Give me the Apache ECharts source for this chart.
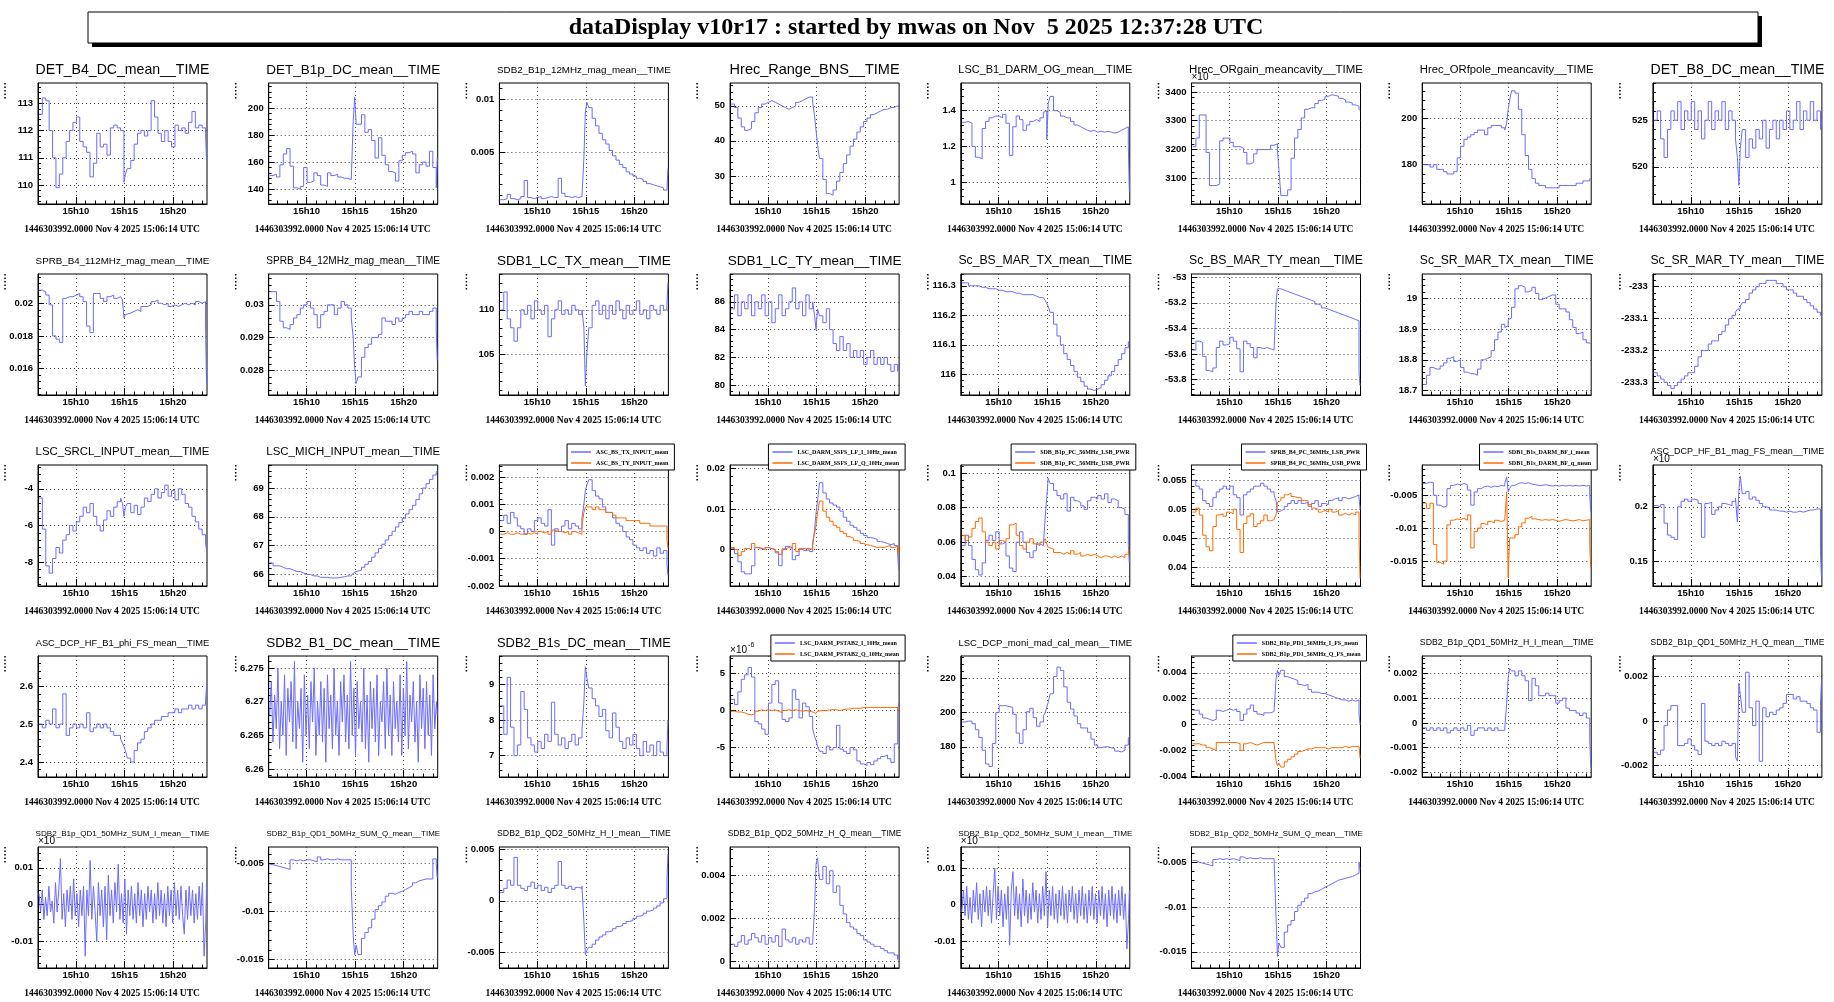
<!DOCTYPE html>
<html><head><meta charset="utf-8">
<script src="https://cdn.jsdelivr.net/npm/echarts@6/dist/echarts.min.js"></script>
<style>html,body{margin:0;padding:0;background:#fff}#c{width:1834px;height:1002px}</style>
</head><body><div id="c"></div>
<script>
// ---------------- DATA ----------------
const HEADER = 'dataDisplay v10r17 : started by mwas on Nov  5 2025 12:37:28 UTC';
const FOOTER = '1446303992.0000 Nov 4 2025 15:06:14 UTC';
// time in minutes after 15h00
const TIMES = [6.2,6.55,6.9,7.25,7.6,7.95,8.3,8.65,9.0,9.35,9.7,10.05,10.4,10.75,11.1,11.45,11.8,12.15,12.5,12.85,13.2,13.55,13.9,14.25,14.6,14.8,14.95,15.1,15.3,15.65,16.0,16.35,16.7,17.05,17.4,17.75,18.1,18.45,18.8,19.15,19.5,19.85,20.2,20.55,20.9,21.25,21.6,21.95,22.3,22.65,23.0,23.35,23.45];
// finer sampling used for the noise-dominated channels
const TIMES_FINE = [6.2,6.37,6.54,6.71,6.88,7.05,7.22,7.39,7.56,7.73,7.9,8.07,8.24,8.41,8.58,8.75,8.92,9.09,9.26,9.43,9.6,9.77,9.94,10.11,10.28,10.45,10.62,10.79,10.96,11.13,11.3,11.47,11.64,11.81,11.98,12.15,12.32,12.49,12.66,12.83,13.0,13.17,13.34,13.51,13.68,13.85,14.02,14.19,14.36,14.53,14.7,14.87,15.04,15.21,15.38,15.55,15.72,15.89,16.06,16.23,16.4,16.57,16.74,16.91,17.08,17.25,17.42,17.59,17.76,17.93,18.1,18.27,18.44,18.61,18.78,18.95,19.12,19.29,19.46,19.63,19.8,19.97,20.14,20.31,20.48,20.65,20.82,20.99,21.16,21.33,21.5,21.67,21.84,22.01,22.18,22.35,22.52,22.69,22.86,23.03,23.2,23.37,23.45];
const TIME_RANGE = [6.1, 23.5];
const TIME_TICKS = [10, 15, 20];
const TIME_LABELS = ['15h10', '15h15', '15h20'];
const TIME_MINOR = [7,8,9,11,12,13,14,16,17,18,19,21,22,23];

const det_b4_dc = [112.6,113.2,113.1,112.0,111.0,109.9,110.4,111.0,111.6,112.0,112.3,112.5,111.6,111.4,111.2,110.3,110.8,111.9,111.4,111.5,111.1,112.1,112.2,112.1,112.0,112.0,110.1,110.4,110.6,110.9,111.5,111.9,112.0,111.8,112.0,113.1,112.5,111.9,111.6,112.0,111.6,111.4,112.2,112.0,112.1,111.9,112.3,112.7,112.1,112.2,112.1,111.9,110.9];
const det_b1p_dc = [150,151,149,158,166,170,157,141,140,142,156,145,146,152,150,143,142,152,150,151,149,148,148,147,147,190,208,188,188,195,182,184,176,163,178,165,158,153,152,146,161,165,167,168,166,152,158,160,157,168,156,141,163];
const sdb2_12mhz_mag = [0.0006,0.0007,0.0011,0.0007,0.0006,0.0007,0.0009,0.0024,0.0008,0.0007,0.0008,0.0009,0.0007,0.0008,0.0009,0.0008,0.0008,0.0026,0.0012,0.0009,0.0008,0.0009,0.0008,0.0009,0.0009,0.0045,0.0088,0.0097,0.0092,0.0082,0.0075,0.0068,0.0062,0.0058,0.0052,0.0047,0.0043,0.0039,0.0036,0.0032,0.003,0.0028,0.0026,0.0025,0.0023,0.0021,0.002,0.0019,0.0018,0.0017,0.0015,0.0014,0.0035];
const hrec_range_bns = [50.5,49.5,46.5,44,43,43.5,45.5,48,49.5,50.5,51,51.5,51,50.5,50,49.5,49,49.5,50,51,51.5,52,52.5,52.5,51,47,43,39,35,29,25,24.5,26,28.5,31,33.5,36,38.5,40.5,42.5,44,45.5,46.5,47.5,48,48.5,49,49,49.5,49.5,50,50,50];
const lsc_darm_og = [1.335,1.34,1.33,1.2,1.14,1.13,1.3,1.34,1.36,1.37,1.37,1.36,1.38,1.33,1.15,1.31,1.37,1.35,1.29,1.32,1.34,1.35,1.34,1.36,1.39,1.40,1.24,1.44,1.48,1.4,1.39,1.37,1.36,1.36,1.34,1.32,1.31,1.3,1.29,1.285,1.29,1.28,1.285,1.28,1.285,1.28,1.275,1.28,1.29,1.3,1.31,1.2,0.95];
const hrec_orgain = [3210,3240,3320,3320,3190,3075,3075,3080,3230,3240,3240,3225,3210,3210,3205,3190,3150,3155,3185,3200,3200,3200,3200,3215,3220,3220,3200,3130,3040,3040,3060,3170,3240,3270,3310,3340,3345,3345,3360,3370,3375,3385,3390,3388,3385,3378,3372,3365,3362,3355,3350,3340,3335];
const hrec_orfpole = [180,180,179,180,178,178,177,176,176,177,183,188,191,192,193,194,195,195,193,196,197,197,197,196,195,198,204,208,212,211,204,193,184,178,174,172,171,171,170,170,170,170,171,171,171,171,171,172,172,173,173,174,174];
const det_b8_dc = [525,526,523,521,524,526,525,527,524,526,525,527,524,526,523,525,527,524,526,525,527,524,526,525,523,521,518,522,524,521,523,522,524,523,525,522,524,525,523,525,524,526,524,525,527,524,526,525,527,525,526,524,525];
const sprb_112mhz_mag = [0.0208,0.0207,0.0205,0.0199,0.0180,0.0178,0.0176,0.0203,0.0204,0.0204,0.0205,0.0206,0.0204,0.0201,0.0186,0.0182,0.0206,0.0206,0.0203,0.0201,0.0204,0.0205,0.0203,0.0204,0.0203,0.0202,0.0191,0.0193,0.0194,0.0195,0.0196,0.0195,0.0198,0.0198,0.0199,0.0201,0.0202,0.0200,0.0199,0.0200,0.0198,0.0199,0.0198,0.0199,0.0200,0.0199,0.0200,0.0199,0.0201,0.0200,0.0201,0.0186,0.0150];
const sprb_12mhz_mag = [0.0304,0.0304,0.0301,0.0295,0.0293,0.02925,0.0294,0.0296,0.0297,0.0299,0.0300,0.0301,0.0299,0.0297,0.0293,0.0297,0.0298,0.0300,0.0300,0.0297,0.0299,0.0301,0.0300,0.0299,0.0296,0.0290,0.0281,0.0276,0.0278,0.0284,0.0287,0.0288,0.0290,0.0290,0.0291,0.0296,0.0295,0.0295,0.0294,0.0296,0.0295,0.0296,0.0297,0.0298,0.0297,0.0297,0.0298,0.0297,0.0297,0.0298,0.0299,0.0292,0.0283];
const sdb1_lc_tx = [110,112,109,108,106.5,108,110,109.5,110.5,109,111,110,109.5,110.5,107,109,110,111,109.5,110,109.5,110.5,110,109.5,110,108,101.5,105,108,110.5,111,109.5,110.5,109,110.5,109.5,111,110,109,110.5,109.5,110,111,109.5,110,109,110.5,110,109.5,110.5,110,110.5,113];
const sdb1_lc_ty = [85.5,86.5,85,86,85.5,86.5,85,86,85.5,86.5,85,86,84.5,85.5,86.5,85,85.5,86,87,85.5,86,85,86.5,85.5,86,85,84,85.5,85,84.5,85.5,84,83,82.5,83.5,82.5,83,82,82.5,82,82.5,81.5,82,82.5,81.5,82,81.5,82,81.5,81,81.5,81,81.5];
const sc_bs_mar_tx = [116.31,116.31,116.3,116.3,116.3,116.295,116.295,116.29,116.29,116.29,116.285,116.285,116.28,116.28,116.28,116.275,116.275,116.27,116.27,116.27,116.27,116.265,116.26,116.26,116.26,116.25,116.24,116.23,116.21,116.17,116.13,116.1,116.07,116.05,116.03,116.01,115.99,115.975,115.96,115.95,115.945,115.95,115.955,115.965,115.98,115.995,116.01,116.03,116.05,116.07,116.09,116.11,116.11];
const sc_bs_mar_ty = [-53.57,-53.50,-53.51,-53.62,-53.73,-53.74,-53.71,-53.55,-53.5,-53.53,-53.52,-53.47,-53.50,-53.56,-53.74,-53.5,-53.52,-53.55,-53.63,-53.55,-53.56,-53.55,-53.56,-53.57,-53.57,-53.2,-53.09,-53.09,-53.10,-53.11,-53.12,-53.13,-53.14,-53.15,-53.16,-53.17,-53.18,-53.19,-53.21,-53.22,-53.24,-53.25,-53.26,-53.27,-53.28,-53.29,-53.30,-53.31,-53.32,-53.33,-53.34,-53.75,-53.85];
const sc_sr_mar_tx = [18.72,18.75,18.775,18.77,18.77,18.78,18.79,18.805,18.81,18.795,18.80,18.775,18.76,18.755,18.755,18.75,18.77,18.80,18.805,18.81,18.83,18.865,18.89,18.915,18.905,18.91,18.93,18.935,18.97,19.03,19.04,19.035,19.02,19.025,19.035,19.015,18.995,19.0,19.005,19.01,19.01,18.98,18.965,18.965,18.955,18.93,18.905,18.885,18.89,18.865,18.855,18.85,18.85];
const sc_sr_mar_ty = [-233.27,-233.28,-233.29,-233.3,-233.31,-233.32,-233.31,-233.3,-233.29,-233.28,-233.27,-233.27,-233.25,-233.22,-233.2,-233.2,-233.18,-233.17,-233.17,-233.15,-233.14,-233.12,-233.1,-233.09,-233.08,-233.07,-233.07,-233.06,-233.05,-233.04,-233.02,-233.01,-233.0,-232.99,-232.99,-232.98,-232.98,-232.98,-232.99,-232.99,-233.0,-233.01,-233.01,-233.02,-233.03,-233.03,-233.04,-233.05,-233.06,-233.07,-233.08,-233.09,-233.09];
const lsc_srcl_input = [-4.5,-6.2,-8.2,-8.6,-7.8,-7.2,-7.5,-6.8,-6.5,-6.0,-6.3,-5.8,-5.5,-5.0,-5.3,-4.8,-5.5,-6.0,-6.3,-5.7,-5.2,-5.5,-5.0,-4.7,-4.5,-4.8,-5.5,-5.0,-4.8,-5.3,-4.9,-5.4,-5.0,-4.5,-4.7,-4.3,-4.0,-4.5,-4.2,-3.8,-4.4,-4.1,-4.6,-4.0,-4.3,-4.8,-5.0,-5.5,-5.8,-6.2,-6.5,-7.0,-7.3];
const lsc_mich_input = [66.4,66.3,66.3,66.25,66.2,66.2,66.15,66.1,66.1,66.05,66.0,66.0,65.95,65.95,65.9,65.9,65.9,65.88,65.88,65.88,65.9,65.92,65.95,65.95,66.0,66.05,66.1,66.1,66.15,66.25,66.35,66.45,66.6,66.75,66.9,67.05,67.2,67.35,67.5,67.65,67.8,67.95,68.1,68.25,68.4,68.6,68.8,69.0,69.15,69.3,69.45,69.55,69.6];
const asc_bs_tx = [0.0004,0.0006,0.0003,0.0007,0.0005,0.0002,0.0001,-0.0001,0.0001,0.0000,0.0004,0.0005,0.0003,0.0002,0.0008,-0.0005,0.0001,0.0000,0.0002,0.0004,0.0001,0.0003,0.0002,0.0001,0.0005,0.0010,0.0015,0.0017,0.0019,0.0015,0.0013,0.0012,0.0009,0.0007,0.0007,0.0005,0.0003,0.0002,0.0000,-0.0002,-0.0003,-0.0005,-0.0006,-0.0007,-0.0006,-0.0008,-0.0007,-0.0009,-0.0006,-0.0008,-0.0007,-0.0012,-0.0016];
const asc_bs_ty = [-0.0001,-0.00005,-0.0001,-0.0001,-0.00005,-0.0001,-0.0001,-0.00005,-0.0001,-0.00005,-0.0001,0.0000,-0.00005,0.0000,-0.0001,0.00005,0.0000,0.0000,-0.00005,0.0000,-0.0001,0.0000,-0.00005,-0.0001,0.0002,0.0007,0.0009,0.0009,0.0009,0.0008,0.0009,0.0008,0.0008,0.0007,0.0007,0.0006,0.0005,0.0005,0.0005,0.0004,0.0004,0.0004,0.0004,0.0003,0.0003,0.0003,0.0002,0.0002,0.0002,0.0002,0.0002,-0.0003,-0.0006];
const ssfs_i = [0.0002,-0.001,-0.003,-0.0055,-0.006,-0.006,-0.004,0.0005,0.0003,0.0000,0.0005,0.0003,0.0000,-0.0008,-0.004,0.0000,0.0008,0.0005,-0.0025,-0.0015,0.0000,-0.0003,0.0000,-0.0005,0.001,0.005,0.009,0.012,0.0165,0.014,0.0125,0.0115,0.011,0.0105,0.0095,0.008,0.007,0.006,0.0055,0.0048,0.004,0.0035,0.003,0.0028,0.0025,0.002,0.0018,0.0015,0.0012,0.0015,0.001,-0.001,-0.005];
const ssfs_q = [0.0005,0.0000,-0.0015,-0.0005,0.0003,0.0000,0.0015,0.0005,0.0003,0.0000,0.0005,0.0002,0.0000,-0.0005,-0.0012,0.0002,0.0005,0.0003,0.0015,-0.0005,0.0003,0.0002,0.0003,0.0000,0.002,0.004,0.006,0.009,0.012,0.0095,0.008,0.007,0.006,0.0055,0.0045,0.004,0.0032,0.0028,0.0022,0.002,0.0015,0.0012,0.001,0.0008,0.0005,0.0006,0.0005,0.0008,0.001,0.0005,0.0008,-0.001,0.001];
const pc56_lsb = [0.058,0.064,0.058,0.05,0.044,0.041,0.048,0.061,0.064,0.061,0.066,0.059,0.06,0.052,0.045,0.043,0.06,0.066,0.06,0.054,0.051,0.055,0.059,0.058,0.059,0.075,0.086,0.097,0.094,0.09,0.087,0.085,0.088,0.078,0.086,0.084,0.083,0.081,0.079,0.084,0.086,0.085,0.087,0.085,0.088,0.083,0.085,0.084,0.08,0.079,0.076,0.058,0.048];
const pc56_usb = [0.064,0.061,0.063,0.068,0.072,0.074,0.066,0.06,0.058,0.06,0.056,0.061,0.06,0.062,0.07,0.071,0.064,0.058,0.056,0.06,0.062,0.059,0.058,0.06,0.061,0.062,0.059,0.057,0.056,0.054,0.054,0.053,0.054,0.053,0.055,0.053,0.054,0.052,0.053,0.052,0.053,0.052,0.051,0.052,0.052,0.051,0.052,0.051,0.052,0.051,0.053,0.055,0.056];
const sprb_pc_lsb = [0.055,0.054,0.0535,0.0515,0.051,0.0505,0.052,0.053,0.0535,0.054,0.0535,0.054,0.0525,0.052,0.049,0.0525,0.053,0.0535,0.054,0.054,0.0545,0.054,0.0535,0.053,0.0525,0.0515,0.0495,0.0497,0.05,0.0505,0.051,0.0515,0.051,0.0515,0.051,0.0512,0.0505,0.051,0.0515,0.0505,0.051,0.0508,0.0515,0.0518,0.052,0.0515,0.052,0.0518,0.052,0.0522,0.0525,0.052,0.05];
const sprb_pc_usb = [0.0495,0.0502,0.049,0.0455,0.0435,0.0428,0.047,0.049,0.0492,0.0488,0.0495,0.0492,0.05,0.0465,0.0425,0.0475,0.0488,0.0492,0.047,0.0475,0.048,0.049,0.048,0.0482,0.048,0.049,0.0512,0.0515,0.052,0.0525,0.0528,0.0522,0.052,0.052,0.0515,0.0515,0.0508,0.0502,0.05,0.0495,0.0498,0.0495,0.05,0.0495,0.0498,0.049,0.0493,0.049,0.0493,0.049,0.0495,0.045,0.038];
const darm_bf_i = [-0.0032,-0.003,-0.0031,-0.005,-0.0065,-0.0068,-0.0066,-0.004,-0.0035,-0.0033,-0.0034,-0.0032,-0.0034,-0.0042,-0.0065,-0.0045,-0.004,-0.0037,-0.0036,-0.0038,-0.0036,-0.0037,-0.0035,-0.0036,-0.0032,-0.0022,-0.0045,-0.004,-0.0035,-0.0032,-0.0031,-0.0032,-0.0031,-0.0033,-0.0034,-0.0035,-0.0035,-0.0034,-0.0035,-0.0036,-0.0035,-0.0036,-0.0035,-0.0036,-0.0035,-0.0036,-0.0035,-0.0036,-0.0035,-0.0036,-0.0035,-0.005,-0.0075];
const darm_bf_q = [-0.0062,-0.007,-0.0062,-0.0125,-0.0152,-0.0155,-0.015,-0.0095,-0.0088,-0.0086,-0.0087,-0.0085,-0.0088,-0.008,-0.013,-0.0105,-0.01,-0.0093,-0.0095,-0.009,-0.0092,-0.0088,-0.009,-0.0088,-0.0085,-0.0045,-0.0175,-0.0115,-0.0115,-0.011,-0.0098,-0.0092,-0.0085,-0.0082,-0.0086,-0.0087,-0.0088,-0.0087,-0.0088,-0.0087,-0.0088,-0.009,-0.0088,-0.0087,-0.0088,-0.0089,-0.0088,-0.0087,-0.0089,-0.0088,-0.0087,-0.0125,-0.016];
const dcp_mag_fs = [0.201,0.2,0.202,0.185,0.174,0.172,0.17,0.2,0.205,0.207,0.205,0.207,0.206,0.203,0.172,0.203,0.204,0.193,0.197,0.2,0.203,0.202,0.201,0.205,0.208,0.186,0.215,0.228,0.212,0.214,0.207,0.209,0.206,0.203,0.2,0.199,0.197,0.197,0.196,0.196,0.195,0.196,0.195,0.195,0.196,0.195,0.196,0.197,0.197,0.198,0.198,0.16,0.135];
const dcp_phi_fs = [2.5,2.49,2.51,2.5,2.54,2.49,2.5,2.58,2.47,2.49,2.5,2.49,2.5,2.49,2.53,2.48,2.49,2.5,2.49,2.5,2.49,2.48,2.47,2.47,2.46,2.45,2.44,2.43,2.41,2.4,2.43,2.45,2.46,2.48,2.49,2.5,2.51,2.51,2.52,2.52,2.53,2.53,2.54,2.53,2.54,2.54,2.55,2.54,2.55,2.54,2.55,2.56,2.6];
// fine sampling (TIMES_FINE)
const sdb2_b1_dc = [6.268,6.273,6.264,6.271,6.266,6.275,6.263,6.27,6.265,6.274,6.262,6.272,6.267,6.273,6.264,6.276,6.263,6.27,6.266,6.272,6.261,6.274,6.265,6.271,6.263,6.273,6.267,6.275,6.262,6.27,6.265,6.273,6.264,6.272,6.261,6.274,6.266,6.271,6.263,6.275,6.265,6.27,6.262,6.273,6.267,6.274,6.264,6.271,6.263,6.276,6.265,6.272,6.262,6.273,6.266,6.27,6.264,6.275,6.263,6.271,6.261,6.273,6.266,6.272,6.264,6.274,6.262,6.27,6.267,6.273,6.263,6.275,6.265,6.271,6.262,6.273,6.266,6.27,6.264,6.274,6.262,6.272,6.265,6.276,6.263,6.271,6.267,6.273,6.264,6.27,6.261,6.274,6.266,6.272,6.263,6.273,6.265,6.271,6.262,6.274,6.266,6.27,6.268];
const sdb2_b1s_dc = [8.4,7.6,9.2,7.8,7.0,7.3,8.8,8.3,7.5,7.3,7.1,7.4,7.2,7.6,7.4,8.5,7.6,7.3,7.5,7.2,7.4,7.6,7.3,7.5,7.7,8.5,9.5,9.2,8.9,8.6,8.4,8.1,8.3,7.7,7.5,8.2,7.8,7.4,7.2,7.5,7.3,7.6,7.2,7.0,7.4,7.1,7.3,7.0,7.4,7.1,7.0,7.2,8.0];
// PSTAB2 values in units of 1e-6
const pstab2_i_e6 = [1.5,0.8,2.5,4.2,4.8,5.8,4.5,-1.5,-1.8,-2.5,-3.2,1.0,3.5,4.0,1.0,-1.2,-1.5,-1.0,2.8,1.5,-1.0,1.0,0.5,-0.8,-2.5,-3.5,-4.0,-4.8,-5.5,-5.8,-4.8,-5.3,-5.0,-2.0,-5.2,-5.5,-5.8,-5.0,-5.3,-6.8,-7.2,-7.4,-7.0,-7.3,-6.8,-6.5,-6.2,-6.0,-6.5,-7.0,-4.5,0.0,1.0];
const pstab2_q_e6 = [-0.1,-0.2,-0.2,-0.3,-0.5,-0.6,-0.4,-0.1,0.1,0.0,0.1,0.0,0.1,-0.1,-0.3,0.0,0.1,0.0,0.1,0.0,-0.1,0.0,-0.1,-0.2,-0.3,-0.4,-0.2,-0.1,0.0,0.0,0.1,0.1,0.1,0.0,0.1,0.2,0.2,0.3,0.3,0.3,0.4,0.4,0.4,0.4,0.4,0.4,0.4,0.4,0.4,0.4,0.4,0.0,-0.3];
const dcp_moni_mad = [194.5,195,195,193.5,190,185.5,178,170,168.5,182,200,204,204,203.5,203,199,188,182,190,200.5,202.5,197,192,194.5,198,200,203,206,211,221,226.5,224.5,215,206,202,198,193.5,191,191,188.5,184.5,181,179.5,180,180,179.5,179,177.5,177,178,181,185,186];
const pd1_i_fs = [0.0011,0.0011,0.0008,0.0005,0.0004,0.0003,0.0004,0.0011,0.001,0.0011,0.0012,0.0011,0.0012,0.001,0.0003,0.0008,0.0012,0.0015,0.001,0.0008,0.0007,0.0009,0.0009,0.001,0.001,0.0035,0.0042,0.0038,0.0042,0.0037,0.0036,0.0035,0.0034,0.0031,0.003,0.0031,0.0027,0.0025,0.0025,0.0024,0.0024,0.0023,0.0022,0.0021,0.002,0.0019,0.0019,0.0018,0.0019,0.0018,0.0019,0.0008,0.0];
const pd1_q_fs = [-0.0015,-0.0015,-0.0016,-0.0016,-0.0018,-0.0019,-0.002,-0.0014,-0.0014,-0.0014,-0.0014,-0.0014,-0.0014,-0.0015,-0.002,-0.0015,-0.0014,-0.0015,-0.0016,-0.0015,-0.0014,-0.0014,-0.0014,-0.0014,-0.0014,-0.0028,-0.0032,-0.003,-0.0033,-0.0029,-0.0027,-0.0025,-0.0023,-0.0021,-0.002,-0.0019,-0.0019,-0.0018,-0.0018,-0.0018,-0.0018,-0.0019,-0.0018,-0.0018,-0.0018,-0.0018,-0.0017,-0.0018,-0.0017,-0.0017,-0.0017,-0.0016,-0.0026];
const qd1_h_i = [-0.0002,-0.0003,-0.0002,-0.0003,-0.0002,-0.0003,-0.0002,-0.0004,-0.0003,-0.0002,-0.0003,-0.0002,-0.0003,-0.0001,-0.0005,-0.0003,-0.0002,-0.0002,-0.0003,-0.0002,-0.0003,-0.0002,-0.0003,-0.0003,-0.0002,0.0008,0.0018,0.0022,0.0021,0.0019,0.0021,0.0019,0.0017,0.0009,0.0018,0.0015,0.0011,0.0011,0.0012,0.0011,0.0011,0.0008,0.0009,0.001,0.0006,0.0005,0.0005,0.0004,0.0003,0.0004,0.0002,-0.0006,-0.0018];
const qd1_h_q = [-0.0014,-0.0015,-0.0013,-0.0002,0.0005,0.0007,0.0007,-0.0011,-0.0011,-0.001,-0.0008,-0.0011,-0.0013,-0.0015,0.0008,-0.0009,-0.001,-0.0011,-0.001,-0.0011,-0.0009,-0.001,-0.0011,-0.001,-0.0016,-0.0018,0.0017,0.0012,0.0004,0.0022,0.0006,-0.0002,0.0009,-0.0018,0.0006,0.0002,0.0004,0.0003,0.0005,0.0006,0.0008,0.0012,0.0012,0.001,0.0011,0.0009,0.0009,0.0008,0.0006,0.0005,-0.0005,0.0007,0.0018];
// fine sampling (TIMES_FINE)
const qd1_sum_i = [0.003,-0.002,0.004,-0.004,0.002,-0.003,0.005,-0.002,0.001,-0.005,0.006,-0.002,0.004,0.0125,-0.004,0.003,-0.006,0.004,-0.002,0.005,-0.004,0.007,-0.003,0.003,-0.006,0.004,-0.003,0.005,-0.014,0.004,-0.003,0.012,-0.004,0.005,-0.002,-0.01,0.006,-0.003,0.004,-0.006,0.005,-0.0095,0.008,-0.003,0.004,-0.005,0.006,-0.002,0.011,-0.004,0.003,-0.005,0.007,-0.008,0.004,-0.003,0.005,-0.004,0.003,-0.005,0.006,-0.003,0.004,-0.006,0.003,-0.004,0.005,-0.002,0.004,-0.005,0.003,-0.004,0.006,-0.003,0.004,-0.005,0.003,-0.006,0.005,-0.003,0.004,-0.005,0.006,-0.003,0.004,-0.004,0.005,-0.003,-0.008,0.004,-0.004,0.005,-0.003,0.004,-0.005,0.003,-0.004,0.005,-0.003,0.006,-0.014,-0.005,0.006];
const qd1_sum_q = [-0.0051,-0.0052,-0.0053,-0.0054,-0.0055,-0.0056,-0.0046,-0.0047,-0.0046,-0.0047,-0.0046,-0.0046,-0.0047,-0.0048,-0.0043,-0.0046,-0.0045,-0.0046,-0.0046,-0.0045,-0.0046,-0.0046,-0.0046,-0.0046,-0.0075,-0.0125,-0.0145,-0.0135,-0.0145,-0.0128,-0.0122,-0.0117,-0.0108,-0.0098,-0.0094,-0.009,-0.0084,-0.0081,-0.0082,-0.008,-0.0079,-0.0077,-0.0075,-0.0073,-0.007,-0.0068,-0.0067,-0.0066,-0.0066,-0.0066,-0.0045,-0.005,-0.0065];
const qd2_h_i = [0.0008,0.0012,0.002,0.0015,0.0042,0.0015,0.0012,0.001,0.0014,0.0018,0.0012,0.0015,0.001,0.0013,0.0008,0.0012,0.0015,0.0038,0.0015,0.0012,0.0014,0.0011,0.0013,0.0012,0.0014,-0.002,-0.0052,-0.0048,-0.0045,-0.0042,-0.0038,-0.0035,-0.0033,-0.003,-0.0029,-0.0027,-0.0025,-0.0024,-0.0022,-0.002,-0.0019,-0.0017,-0.0015,-0.0014,-0.0012,-0.001,-0.0009,-0.0007,-0.0005,-0.0002,0.0002,0.002,0.0045];
const qd2_h_q = [0.0008,0.0007,0.0009,0.0012,0.0008,0.001,0.0013,0.0011,0.0009,0.0012,0.0008,0.0011,0.0009,0.0012,0.0007,0.0015,0.001,0.0009,0.0011,0.0008,0.001,0.0009,0.0011,0.0008,0.0009,0.0025,0.0045,0.0048,0.0038,0.0044,0.0036,0.0042,0.0032,0.0035,0.0026,0.0022,0.0018,0.0016,0.0015,0.0013,0.0012,0.001,0.0009,0.0008,0.0007,0.0007,0.0006,0.0005,0.0004,0.0004,0.0003,0.0001,0.0003];
// fine sampling (TIMES_FINE)
const qd2_sum_i = [-0.002,0.004,-0.003,0.005,-0.004,0.002,-0.005,0.004,-0.002,0.006,-0.004,0.003,-0.006,0.004,-0.002,0.005,-0.003,0.004,-0.005,0.003,0.01,-0.004,0.005,-0.003,0.004,-0.006,0.003,-0.004,0.005,-0.011,0.004,0.009,-0.003,0.005,-0.004,0.003,-0.006,0.007,-0.003,0.004,-0.005,0.003,-0.004,0.006,-0.002,0.004,-0.005,0.003,-0.004,0.005,-0.003,0.009,-0.006,0.004,-0.003,0.005,-0.004,0.003,-0.005,0.004,-0.003,0.005,-0.004,0.003,-0.005,0.004,-0.002,0.005,-0.004,0.003,-0.005,0.004,-0.003,0.005,-0.004,0.003,-0.005,0.004,-0.003,0.005,-0.004,0.003,-0.005,0.004,-0.003,0.005,-0.004,0.003,-0.006,0.004,-0.003,0.005,-0.004,0.003,-0.005,0.004,-0.003,0.005,-0.004,0.003,-0.012,-0.004,0.004];
const qd2_sum_q = [-0.0048,-0.005,-0.0051,-0.0052,-0.0053,-0.0054,-0.0047,-0.0046,-0.0047,-0.0046,-0.0047,-0.0046,-0.0047,-0.0048,-0.0044,-0.0046,-0.0045,-0.0046,-0.0046,-0.0045,-0.0046,-0.0046,-0.0046,-0.0046,-0.0048,-0.011,-0.0155,-0.014,-0.0145,-0.0128,-0.012,-0.0115,-0.0105,-0.0098,-0.0094,-0.009,-0.0085,-0.0083,-0.0082,-0.008,-0.0078,-0.0076,-0.0074,-0.0072,-0.007,-0.0069,-0.0068,-0.0067,-0.0066,-0.0064,-0.0062,-0.005,-0.0058];

// panel titles (empty title = legend panel)
const PANEL_TITLES = ['DET_B4_DC_mean__TIME','DET_B1p_DC_mean__TIME','SDB2_B1p_12MHz_mag_mean__TIME','Hrec_Range_BNS__TIME','LSC_B1_DARM_OG_mean__TIME','Hrec_ORgain_meancavity__TIME','Hrec_ORfpole_meancavity__TIME','DET_B8_DC_mean__TIME',
'SPRB_B4_112MHz_mag_mean__TIME','SPRB_B4_12MHz_mag_mean__TIME','SDB1_LC_TX_mean__TIME','SDB1_LC_TY_mean__TIME','Sc_BS_MAR_TX_mean__TIME','Sc_BS_MAR_TY_mean__TIME','Sc_SR_MAR_TX_mean__TIME','Sc_SR_MAR_TY_mean__TIME',
'LSC_SRCL_INPUT_mean__TIME','LSC_MICH_INPUT_mean__TIME','','','','','','ASC_DCP_HF_B1_mag_FS_mean__TIME',
'ASC_DCP_HF_B1_phi_FS_mean__TIME','SDB2_B1_DC_mean__TIME','SDB2_B1s_DC_mean__TIME','','LSC_DCP_moni_mad_cal_mean__TIME','','SDB2_B1p_QD1_50MHz_H_I_mean__TIME','SDB2_B1p_QD1_50MHz_H_Q_mean__TIME',
'SDB2_B1p_QD1_50MHz_SUM_I_mean__TIME','SDB2_B1p_QD1_50MHz_SUM_Q_mean__TIME','SDB2_B1p_QD2_50MHz_H_I_mean__TIME','SDB2_B1p_QD2_50MHz_H_Q_mean__TIME','SDB2_B1p_QD2_50MHz_SUM_I_mean__TIME','SDB2_B1p_QD2_50MHz_SUM_Q_mean__TIME'];
// series of each panel: [name, values, times (optional)]
const PANEL_SERIES = [
 [['DET_B4_DC_mean', det_b4_dc]], [['DET_B1p_DC_mean', det_b1p_dc]], [['SDB2_B1p_12MHz_mag_mean', sdb2_12mhz_mag]], [['Hrec_Range_BNS', hrec_range_bns]],
 [['LSC_B1_DARM_OG_mean', lsc_darm_og]], [['Hrec_ORgain_meancavity', hrec_orgain]], [['Hrec_ORfpole_meancavity', hrec_orfpole]], [['DET_B8_DC_mean', det_b8_dc]],
 [['SPRB_B4_112MHz_mag_mean', sprb_112mhz_mag]], [['SPRB_B4_12MHz_mag_mean', sprb_12mhz_mag]], [['SDB1_LC_TX_mean', sdb1_lc_tx]], [['SDB1_LC_TY_mean', sdb1_lc_ty]],
 [['Sc_BS_MAR_TX_mean', sc_bs_mar_tx]], [['Sc_BS_MAR_TY_mean', sc_bs_mar_ty]], [['Sc_SR_MAR_TX_mean', sc_sr_mar_tx]], [['Sc_SR_MAR_TY_mean', sc_sr_mar_ty]],
 [['LSC_SRCL_INPUT_mean', lsc_srcl_input]], [['LSC_MICH_INPUT_mean', lsc_mich_input]],
 [['ASC_BS_TX_INPUT_mean', asc_bs_tx], ['ASC_BS_TY_INPUT_mean', asc_bs_ty]],
 [['LSC_DARM_SSFS_LF_I_10Hz_mean', ssfs_i], ['LSC_DARM_SSFS_LF_Q_10Hz_mean', ssfs_q]],
 [['SDB_B1p_PC_56MHz_LSB_PWR', pc56_lsb], ['SDB_B1p_PC_56MHz_USB_PWR', pc56_usb]],
 [['SPRB_B4_PC_56MHz_LSB_PWR', sprb_pc_lsb], ['SPRB_B4_PC_56MHz_USB_PWR', sprb_pc_usb]],
 [['SDB1_B1s_DARM_BF_i_mean', darm_bf_i], ['SDB1_B1s_DARM_BF_q_mean', darm_bf_q]],
 [['ASC_DCP_HF_B1_mag_FS_mean', dcp_mag_fs]],
 [['ASC_DCP_HF_B1_phi_FS_mean', dcp_phi_fs]], [['SDB2_B1_DC_mean', sdb2_b1_dc, TIMES_FINE]], [['SDB2_B1s_DC_mean', sdb2_b1s_dc]],
 [['LSC_DARM_PSTAB2_I_10Hz_mean', pstab2_i_e6], ['LSC_DARM_PSTAB2_Q_10Hz_mean', pstab2_q_e6]],
 [['LSC_DCP_moni_mad_cal_mean', dcp_moni_mad]],
 [['SDB2_B1p_PD1_56MHz_I_FS_mean', pd1_i_fs], ['SDB2_B1p_PD1_56MHz_Q_FS_mean', pd1_q_fs]],
 [['SDB2_B1p_QD1_50MHz_H_I_mean', qd1_h_i]], [['SDB2_B1p_QD1_50MHz_H_Q_mean', qd1_h_q]],
 [['SDB2_B1p_QD1_50MHz_SUM_I_mean', qd1_sum_i, TIMES_FINE]], [['SDB2_B1p_QD1_50MHz_SUM_Q_mean', qd1_sum_q]],
 [['SDB2_B1p_QD2_50MHz_H_I_mean', qd2_h_i]], [['SDB2_B1p_QD2_50MHz_H_Q_mean', qd2_h_q]],
 [['SDB2_B1p_QD2_50MHz_SUM_I_mean', qd2_sum_i, TIMES_FINE]], [['SDB2_B1p_QD2_50MHz_SUM_Q_mean', qd2_sum_q]]
];
const Y_RANGES = [[109.3,113.75],[129,218.5],[0.0002,0.0115],[22,56.5],[0.878,1.555],[3011,3431],[163,215.4],[516,529],
[0.01438,0.02179],[0.02725,0.03094],[100.5,114],[79.3,88],[115.93,116.34],[-53.922,-52.974],[18.686,19.078],[-233.34,-232.96],
[-9.3,-2.7],[65.6,69.8],[-0.002,0.00244],[-0.009,0.0209],[0.0346,0.1047],[0.03669,0.05767],[-0.0188,-0.0004],[0.1273,0.2383],
[2.36,2.68],[6.2588,6.2768],[6.4,9.8],[-8.96,7.34],[162.4,233],[-0.00407,0.0053],[-0.00218,0.0027],[-0.00251,0.00293],
[-0.0172,0.01566],[-0.0159,-0.00326],[-0.0065,0.0052],[-0.0003,0.0053],[-0.0172,0.0157],[-0.0168,-0.0033]];
const Y_TICKS = [[110,111,112,113],[140,160,180,200],[0.005,0.01],[30,40,50],[1,1.2,1.4],[3100,3200,3300,3400],[180,200],[520,525],
[0.016,0.018,0.02],[0.028,0.029,0.03],[105,110],[80,82,84,86],[116,116.1,116.2,116.3],[-53.8,-53.6,-53.4,-53.2,-53],[18.7,18.8,18.9,19],[-233.3,-233.2,-233.1,-233],
[-8,-6,-4],[66,67,68,69],[-0.002,-0.001,0,0.001,0.002],[0,0.01,0.02],[0.04,0.06,0.08,0.1],[0.04,0.045,0.05,0.055],[-0.015,-0.01,-0.005],[0.15,0.2],
[2.4,2.5,2.6],[6.26,6.265,6.27,6.275],[7,8,9],[-5,0,5],[180,200,220],[-0.004,-0.002,0,0.002,0.004],[-0.002,-0.001,0,0.001,0.002],[-0.002,0,0.002],
[-0.01,0,0.01],[-0.015,-0.01,-0.005],[-0.005,0,0.005],[0,0.002,0.004],[-0.01,0,0.01],[-0.015,-0.01,-0.005]];
// axis exponent labels: [panel index, base, superscript]
const EXPONENTS = [[5,'×10',''],[23,'×10',''],[27,'×10','-6'],[32,'×10',''],[36,'×10','']];

// ---------------- LAYOUT / STYLE ----------------
const COL0 = 38, COLW = 230.7, ROW0 = 83, ROWH = 191, FW = 169, FH = 121, W = 1834;
const BLUE = '#6b6bff', ORANGE = '#ff6a00';
const SANS = '"Liberation Sans", Arial, sans-serif';
const SERIF = '"Liberation Serif", "Times New Roman", serif';

const cvs = document.createElement('canvas').getContext('2d');
function measure(text, font) { cvs.font = font; return cvs.measureText(text).width; }
function fmt(v) { return String(parseFloat(Number(v).toPrecision(8))); }
function minorTicks(min, max, majors) {
  const step = (majors[1] - majors[0]) / 5, out = [];
  for (let k = Math.ceil(min / step - 1e-9); k * step <= max + 1e-12; k++) {
    const v = k * step;
    if (!majors.some(m => Math.abs(m - v) < step * 0.1)) out.push(v);
  }
  return out;
}

const option = { animation: false, backgroundColor: '#fff', grid: [], xAxis: [], yAxis: [], series: [], legend: [], graphic: [] };

// header box
const hw = measure(HEADER, 'bold 100px ' + SERIF) / 100;
option.graphic.push({ type: 'rect', shape: { x: 92, y: 16, width: 1670, height: 31 }, style: { fill: '#000' }, z: 1 });
option.graphic.push({ type: 'rect', shape: { x: 88, y: 12, width: 1670, height: 31 }, style: { fill: '#fff', stroke: '#000', lineWidth: 1 }, z: 2 });
option.graphic.push({ type: 'text', x: 916, y: 28, z: 3, style: { text: HEADER, fill: '#000', fontFamily: SERIF, fontWeight: 'bold', fontSize: Math.min(27, 695 / hw), align: 'center', verticalAlign: 'middle' } });

PANEL_SERIES.forEach((ser, i) => {
  const c = i % 8, r = Math.floor(i / 8);
  const left = COL0 + c * COLW, top = ROW0 + r * ROWH;
  const [ymin, ymax] = Y_RANGES[i];
  const majors = Y_TICKS[i];
  option.grid.push({ left, top, width: FW, height: FH, show: true, borderColor: '#000', borderWidth: 1, backgroundColor: 'rgba(0,0,0,0)' });
  const gridLine = { show: true, lineStyle: { color: '#444', type: [1, 3], width: 1 } };
  option.xAxis.push({ gridIndex: i, type: 'value', min: TIME_RANGE[0], max: TIME_RANGE[1], position: 'bottom',
    axisLine: { show: true, onZero: false, lineStyle: { color: '#000', width: 1 } },
    axisTick: { show: true, inside: true, length: 7, customValues: TIME_TICKS, lineStyle: { color: '#000' } },
    axisLabel: { show: true, customValues: TIME_TICKS, formatter: v => TIME_LABELS[TIME_TICKS.indexOf(Math.round(v))], margin: 2, fontSize: 9.5, fontWeight: 'bold', fontFamily: SANS, color: '#000' },
    splitLine: gridLine });
  option.xAxis.push({ gridIndex: i, type: 'value', min: TIME_RANGE[0], max: TIME_RANGE[1], position: 'bottom',
    axisLine: { show: false, onZero: false }, axisTick: { show: true, inside: true, length: 3.5, customValues: TIME_MINOR, lineStyle: { color: '#000' } },
    axisLabel: { show: false }, splitLine: { show: false } });
  option.yAxis.push({ gridIndex: i, type: 'value', min: ymin, max: ymax, position: 'left',
    axisLine: { show: true, onZero: false, lineStyle: { color: '#000', width: 1 } },
    axisTick: { show: true, inside: true, length: 6, customValues: majors, lineStyle: { color: '#000' } },
    axisLabel: { show: true, customValues: majors, formatter: v => fmt(v), margin: 5, fontSize: 9.5, fontWeight: 'bold', fontFamily: SANS, color: '#000' },
    splitLine: gridLine });
  option.yAxis.push({ gridIndex: i, type: 'value', min: ymin, max: ymax, position: 'left',
    axisLine: { show: false, onZero: false }, axisTick: { show: true, inside: true, length: 3, customValues: minorTicks(ymin, ymax, majors), lineStyle: { color: '#000' } },
    axisLabel: { show: false }, splitLine: { show: false } });
  ser.forEach(([name, vals, times], k) => {
    const tt = times || TIMES;
    option.series.push({ type: 'line', name, xAxisIndex: 2 * i, yAxisIndex: 2 * i, step: 'end', symbol: 'none', silent: true, clip: true,
      data: tt.map((t, j) => [t, vals[j]]), lineStyle: { color: k ? ORANGE : BLUE, width: 1 }, itemStyle: { color: k ? ORANGE : BLUE }, z: 3 + k });
  });
  if (ser.length > 1) {
    option.legend.push({ data: ser.map(s => s[0]), orient: 'vertical', right: W - (left + FW + 6), top: top - 21, icon: 'rect', itemWidth: 20, itemHeight: 1.5, itemGap: 5,
      padding: [5, 6, 4, 4], backgroundColor: '#fff', borderColor: '#000', borderWidth: 1, selectedMode: false, z: 10,
      textStyle: { fontSize: 6, fontFamily: SERIF, fontWeight: 'bold', color: '#000' } });
  }
  // marker at top-left of each pad
  option.graphic.push({ type: 'line', shape: { x1: c * COLW + 5, y1: top, x2: c * COLW + 5, y2: top + 16 }, style: { stroke: '#000', lineWidth: 1.5, lineDash: [1.5, 2] }, z: 5 });
  // title
  const title = PANEL_TITLES[i];
  if (title) {
    const w = measure(title, '100px ' + SANS) / 100;
    option.graphic.push({ type: 'text', x: left + FW / 2, y: top - 13, z: 6, style: { text: title, fill: '#000', fontFamily: SANS, fontSize: Math.min(14.5, 174 / w), align: 'center', verticalAlign: 'middle' } });
  }
  // footer
  option.graphic.push({ type: 'text', x: c * COLW + 112, y: top + FH + 26, z: 6, style: { text: FOOTER, fill: '#000', fontFamily: SERIF, fontWeight: 'bold', fontSize: 9.5, align: 'center', verticalAlign: 'middle' } });
});
EXPONENTS.forEach(([i, base, sup]) => {
  const c = i % 8, r = Math.floor(i / 8);
  const left = COL0 + c * COLW, top = ROW0 + r * ROWH;
  option.graphic.push({ type: 'text', x: left, y: top - 1, z: 5, style: { text: base, fill: '#000', fontFamily: SANS, fontSize: 10, align: 'left', verticalAlign: 'bottom' } });
  if (sup) option.graphic.push({ type: 'text', x: left + 18, y: top - 7, z: 5, style: { text: sup, fill: '#000', fontFamily: SANS, fontSize: 7, align: 'left', verticalAlign: 'bottom' } });
});

const chart = echarts.init(document.getElementById('c'), null, { renderer: 'canvas' });
chart.setOption(option);
</script></body></html>
